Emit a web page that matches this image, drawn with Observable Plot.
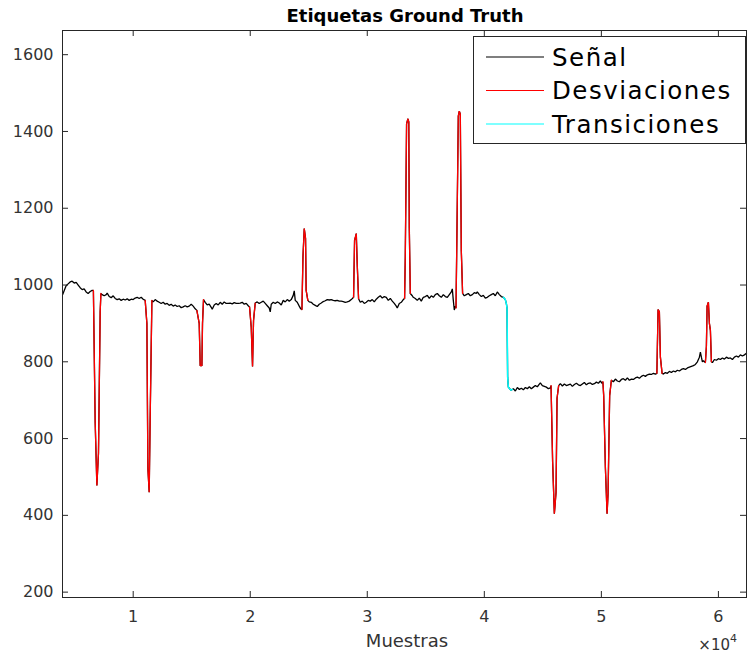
<!DOCTYPE html>
<html>
<head>
<meta charset="utf-8">
<script src="https://cdn.jsdelivr.net/npm/d3@7"></script>
<script src="https://cdn.jsdelivr.net/npm/@observablehq/plot@0.6"></script>
<style>
  html, body { margin: 0; padding: 0; background: #fff; }
  svg { display: block; }
</style>
</head>
<body>
<div id="chart"></div>
<script>
// ---- Data ----
const xTicks = [10000, 20000, 30000, 40000, 50000, 60000];
const yTicks = [200, 400, 600, 800, 1000, 1200, 1400, 1600];
const xDomain = [3960, 62400];
const yDomain = [186, 1663];

// Base signal samples (outside labelled regions)
const senalBase = [
  [3975,975],[4100,985],[4270,998],[4440,1003],[4615,1008],[4785,1010],[4960,1005],[5130,1007],[5300,1000],[5470,993],[5640,988],[5810,990],[5980,982],[6150,978],[6325,983],[6495,986],
  [7350,975],[7520,972],[7692,975],[7777,979],[7948,970],[8120,967],[8290,972],[8460,965],[8632,962],[8803,964],[8974,960],[9145,963],[9316,961],[9487,964],[9658,960],[9829,963],[10000,962],[10170,966],[10341,968],[10512,965],[10683,968],[10854,963],
  [11709,956],[11880,962],[12050,958],[12221,955],[12392,952],[12563,955],[12734,950],[12905,952],[13076,947],[13247,950],[13418,945],[13589,948],[13760,944],[13930,946],[14101,941],[14272,943],[14443,946],[14614,943],[14785,945],[14956,950],[15127,945],[15298,938],
  [16153,955],[16324,948],[16495,950],[16666,942],[16752,937],[16923,948],[17094,952],[17265,948],[17436,955],[17607,950],[17777,956],[17948,952],[18119,952],[18290,953],[18461,951],[18632,954],[18803,952],[18974,952],[19145,953],[19316,955],[19487,950],[19658,952],[19829,946],
  [20598,956],[20769,952],[20940,955],[21111,958],[21282,952],[21453,946],[21624,940],[21709,930],[21795,950],[21966,955],[22136,952],[22307,956],[22478,953],[22649,948],[22820,960],[22991,956],[23162,962],[23333,958],[23503,962],[23674,973],[23760,985],[23845,960],[24016,955],[24187,945],[24316,938],
  [25043,956],[25214,955],[25385,950],[25556,947],[25726,944],[25897,950],[26068,953],[26239,957],[26410,959],[26581,962],[26752,961],[26923,962],[27094,960],[27265,959],[27436,960],[27607,958],[27777,958],[27948,957],[28119,955],[28290,956],[28461,958],[28632,962],
  [29402,955],[29572,958],[29743,952],[29914,955],[30085,960],[30256,958],[30427,962],[30598,956],[30769,963],[30940,968],[31111,972],[31282,966],[31453,970],[31624,968],[31795,960],[31965,965],[32136,958],[32307,952],[32478,945],[32563,940],[32734,952],[32905,955],[33076,962],
  [33845,972],[33931,968],[34102,965],[34273,960],[34444,966],[34615,958],[34786,968],[34957,970],[35128,973],[35299,965],[35470,972],[35641,968],[35812,975],[35983,978],[36154,972],[36325,968],[36496,975],[36667,970],[36838,968],[37008,975],[37179,982],[37265,990],[37350,960],[37436,935],[37521,945],
  [38290,972],[38461,975],[38632,978],[38803,972],[38974,975],[39145,980],[39316,978],[39401,982],[39572,975],[39743,970],[39914,973],[40085,966],[40256,968],[40427,972],[40598,975],[40769,978],[40940,972],[41111,982],[41282,975],[41453,970],
  [42479,730],[42650,724],[42821,733],[42992,728],[43163,731],[43334,727],[43505,733],[43676,730],[43846,735],[44017,730],[44188,734],[44359,738],[44530,735],[44701,742],[44786,745],[44957,738],[45128,736],[45299,734],[45470,730],[45641,732],
  [46497,743],[46668,737],[46839,742],[47010,738],[47180,740],[47351,742],[47522,736],[47693,741],[47864,744],[48035,740],[48206,738],[48377,742],[48548,746],[48719,740],[48890,744],[49061,745],[49232,741],[49403,743],[49574,747],[49745,744],[49914,750],[50058,744],
  [51026,748],[51197,755],[51368,750],[51539,748],[51710,754],[51881,756],[52052,752],[52223,758],[52394,752],[52565,755],[52736,754],[52907,758],[53078,760],[53249,757],[53420,762],[53591,765],[53762,762],[53933,766],[54104,768],[54275,767],[54446,770],[54617,768],
  [55299,768],[55470,772],[55641,770],[55812,775],[55983,772],[56154,776],[56325,774],[56496,778],[56667,776],[56838,780],[57009,782],[57180,780],[57351,784],[57521,786],[57692,788],[57863,790],[58034,793],[58205,800],[58376,812],[58461,825],[58546,812],[58632,800],[58717,803],[58802,800],
  [59487,798],[59658,806],[59829,804],[60000,808],[60170,806],[60341,810],[60512,807],[60683,812],[60854,809],[61025,810],[61196,806],[61367,812],[61538,815],[61709,812],[61880,818],[62051,815],[62222,818],[62393,822]
];

// Deviation segments (red)
const desv1  = [[6600,986],[6752,643],[6897,478],[7034,562],[7179,930],[7240,978]];
const desv2  = [[11025,960],[11170,900],[11256,522],[11367,460],[11453,660],[11597,960]];
const desv3  = [[15440,934],[15640,900],[15726,790],[15871,790],[15922,900],[16008,962]];
const desv4  = [[19940,943],[20085,890],[20196,788],[20282,908],[20427,953]];
const desv5  = [[24418,936],[24504,1073],[24615,1147],[24726,1121],[24777,986],[24922,960]];
const desv6  = [[28829,968],[28914,1116],[29060,1134],[29145,1051],[29256,964]];
const desv7  = [[33187,965],[33247,1073],[33358,1420],[33478,1433],[33546,1425],[33589,1151],[33675,978]];
const desv8  = [[37581,940],[37666,1151],[37777,1440],[37863,1453],[37948,1445],[38033,1090],[38144,978]];
const desv9  = [[45701,738],[45837,539],[45983,404],[46128,460],[46214,705],[46351,738]];
const desv10 = [[50130,748],[50198,712],[50342,526],[50487,404],[50573,457],[50709,712],[50855,752]];
const desv11 = [[54743,770],[54785,840],[54845,936],[54957,930],[55043,812],[55187,770]];
const desv12 = [[58888,798],[58973,840],[59033,945],[59144,955],[59230,900],[59316,882],[59401,800]];
const desviaciones = [desv1, desv2, desv3, desv4, desv5, desv6, desv7, desv8, desv9, desv10, desv11, desv12];

// Transition (cyan)
const transiciones = [[41624,968],[41795,962],[41880,952],[41940,940],[41966,850],[41992,760],[42052,734],[42283,726],[42394,728]];

// ---- Build tables ----
const senal = [...senalBase, ...desviaciones.flat(), ...transiciones]
  .map(([x, y]) => ({x, y}))
  .sort((a, b) => a.x - b.x);
const desvRows = desviaciones.flatMap((seg, i) => seg.map(([x, y]) => ({x, y, seg: i})));
const transRows = transiciones.map(([x, y]) => ({x, y}));

const W = 748, H = 654, mT = 30, mB = 57, mL = 62, mR = 2;
const innerW = W - mL - mR, innerH = H - mT - mB;
const tickLen = 6;
const axisColor = "#262626";

const chart = Plot.plot({
  width: W, height: H,
  marginTop: mT, marginBottom: mB, marginLeft: mL, marginRight: mR,
  style: {fontFamily: "'DejaVu Sans', sans-serif", background: "white", overflow: "visible"},
  x: {domain: xDomain},
  y: {domain: yDomain},
  marks: [
    Plot.line(senal, {x: "x", y: "y", stroke: "black", strokeWidth: 1.3, strokeLinejoin: "miter"}),
    Plot.line(desvRows, {x: "x", y: "y", z: "seg", stroke: "#ff0000", strokeWidth: 1.3, strokeLinejoin: "miter"}),
    Plot.line(transRows, {x: "x", y: "y", stroke: "#00ffff", strokeWidth: 1.5}),
    Plot.frame({stroke: axisColor, strokeWidth: 1}),
    Plot.tickY(yTicks, {y: d => d, insetRight: innerW - tickLen, stroke: axisColor}),
    Plot.tickY(yTicks, {y: d => d, insetLeft: innerW - tickLen, stroke: axisColor}),
    Plot.tickX(xTicks, {x: d => d, insetTop: innerH - tickLen, stroke: axisColor}),
    Plot.tickX(xTicks, {x: d => d, insetBottom: innerH - tickLen, stroke: axisColor}),
    Plot.axisY(yTicks, {tickSize: 0, tickPadding: 9, fontSize: 16, fill: "#333", label: null, tickFormat: d => String(d)}),
    Plot.axisX(xTicks, {tickSize: 0, tickPadding: 13, fontSize: 16, fill: "#333", label: null, tickFormat: d => String(d / 10000)})
  ]
});
document.getElementById("chart").appendChild(chart);

// ---- Annotations: title, axis label, exponent, legend ----
const svg = d3.select(chart);
const ff = "'DejaVu Sans', sans-serif";
svg.append("text").attr("x", 405).attr("y", 21.5).attr("text-anchor", "middle")
  .attr("font-family", ff).attr("font-weight", "bold").attr("font-size", 18).attr("fill", "#000")
  .text("Etiquetas Ground Truth");
svg.append("text").attr("x", 407).attr("y", 647).attr("text-anchor", "middle")
  .attr("font-family", ff).attr("font-size", 18).attr("fill", "#333")
  .text("Muestras");
const ex = svg.append("text").attr("x", 737).attr("y", 650).attr("text-anchor", "end")
  .attr("font-family", ff).attr("font-size", 15).attr("fill", "#333");
ex.append("tspan").text("×10");
ex.append("tspan").attr("dy", -8).attr("font-size", 11).text("4");

const legendItems = [
  {label: "Señal", color: "#000000"},
  {label: "Desviaciones", color: "#ff0000"},
  {label: "Transiciones", color: "#00ffff"}
];
const lg = svg.append("g").attr("text-anchor", "start");
lg.append("rect").attr("x", 473.5).attr("y", 36.5).attr("width", 272).attr("height", 107)
  .attr("fill", "white").attr("stroke", axisColor).attr("stroke-width", 1);
legendItems.forEach((d, i) => {
  const ly = 57 + i * 33.5;
  lg.append("line").attr("x1", 486).attr("x2", 544).attr("y1", ly).attr("y2", ly)
    .attr("stroke", d.color).attr("stroke-width", 1.2);
  lg.append("text").attr("x", 552).attr("y", ly + 8.5).attr("text-anchor", "start")
    .attr("font-family", ff).attr("font-size", 24.5).attr("letter-spacing", 1.5).attr("fill", "#000")
    .text(d.label);
});
</script>
</body>
</html>
